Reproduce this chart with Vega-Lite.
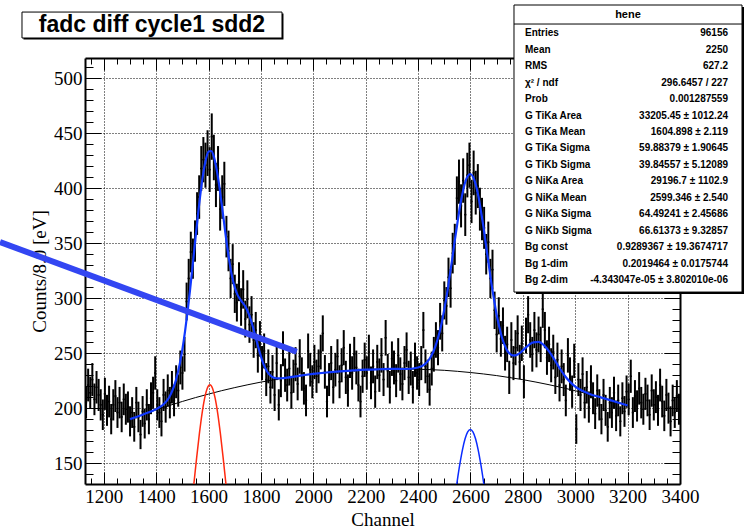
{
  "$schema": "https://vega.github.io/schema/vega-lite/v6.json",
  "width": 595,
  "height": 426,
  "autosize": {"type": "none"},
  "padding": {"left": 85, "top": 58, "right": 68, "bottom": 45},
  "background": "white",
  "config": {"view": {"stroke": null}},
  "datasets": {
    "hist": [
      {"c":1132,"n":205,"e":14.3},{"c":1140,"n":221,"e":14.9},{"c":1148,"n":214,"e":14.6},{"c":1156,"n":226,"e":15.0},{"c":1164,"n":208,"e":14.4},
      {"c":1172,"n":219,"e":14.8},{"c":1180,"n":212,"e":14.6},{"c":1188,"n":203,"e":14.2},{"c":1196,"n":194,"e":13.9},{"c":1204,"n":213,"e":14.6},
      {"c":1212,"n":198,"e":14.1},{"c":1220,"n":206,"e":14.4},{"c":1228,"n":190,"e":13.8},{"c":1236,"n":203,"e":14.2},{"c":1244,"n":211,"e":14.5},
      {"c":1252,"n":196,"e":14.0},{"c":1260,"n":205,"e":14.3},{"c":1268,"n":192,"e":13.9},{"c":1276,"n":208,"e":14.4},{"c":1284,"n":199,"e":14.1},
      {"c":1292,"n":201,"e":14.2},{"c":1300,"n":188,"e":13.7},{"c":1308,"n":196,"e":14.0},{"c":1316,"n":183,"e":13.5},{"c":1324,"n":205,"e":14.3},
      {"c":1332,"n":192,"e":13.9},{"c":1340,"n":176,"e":13.3},{"c":1348,"n":197,"e":14.0},{"c":1356,"n":186,"e":13.6},{"c":1364,"n":203,"e":14.2},
      {"c":1372,"n":190,"e":13.8},{"c":1380,"n":209,"e":14.5},{"c":1388,"n":214,"e":14.6},{"c":1396,"n":232,"e":15.2},{"c":1404,"n":203,"e":14.2},
      {"c":1412,"n":196,"e":14.0},{"c":1420,"n":188,"e":13.7},{"c":1428,"n":212,"e":14.6},{"c":1436,"n":201,"e":14.2},{"c":1444,"n":216,"e":14.7},
      {"c":1452,"n":205,"e":14.3},{"c":1460,"n":219,"e":14.8},{"c":1468,"n":207,"e":14.4},{"c":1476,"n":224,"e":15.0},{"c":1484,"n":216,"e":14.7},
      {"c":1492,"n":237,"e":15.4},{"c":1500,"n":232,"e":15.2},{"c":1508,"n":249,"e":15.8},{"c":1516,"n":297,"e":17.2},{"c":1524,"n":318,"e":17.8},
      {"c":1532,"n":342,"e":18.5},{"c":1540,"n":336,"e":18.3},{"c":1548,"n":352,"e":18.8},{"c":1556,"n":377,"e":19.4},{"c":1564,"n":392,"e":19.8},
      {"c":1572,"n":418,"e":20.4},{"c":1580,"n":426,"e":20.6},{"c":1588,"n":421,"e":20.5},{"c":1596,"n":432,"e":20.8},{"c":1604,"n":417,"e":20.4},
      {"c":1612,"n":447,"e":21.1},{"c":1620,"n":428,"e":20.7},{"c":1628,"n":403,"e":20.1},{"c":1636,"n":418,"e":20.4},{"c":1644,"n":381,"e":19.5},
      {"c":1652,"n":392,"e":19.8},{"c":1660,"n":404,"e":20.1},{"c":1668,"n":356,"e":18.9},{"c":1676,"n":343,"e":18.5},{"c":1684,"n":318,"e":17.8},
      {"c":1692,"n":331,"e":18.2},{"c":1700,"n":304,"e":17.4},{"c":1708,"n":296,"e":17.2},{"c":1716,"n":315,"e":17.7},{"c":1724,"n":292,"e":17.1},
      {"c":1732,"n":308,"e":17.5},{"c":1740,"n":281,"e":16.8},{"c":1748,"n":299,"e":17.3},{"c":1756,"n":276,"e":16.6},{"c":1764,"n":285,"e":16.9},
      {"c":1772,"n":262,"e":16.2},{"c":1780,"n":271,"e":16.5},{"c":1788,"n":248,"e":15.7},{"c":1796,"n":263,"e":16.2},{"c":1804,"n":241,"e":15.5},
      {"c":1812,"n":252,"e":15.9},{"c":1820,"n":226,"e":15.0},{"c":1828,"n":238,"e":15.4},{"c":1836,"n":219,"e":14.8},{"c":1844,"n":233,"e":15.3},
      {"c":1852,"n":212,"e":14.6},{"c":1860,"n":241,"e":15.5},{"c":1868,"n":203,"e":14.2},{"c":1876,"n":225,"e":15.0},{"c":1884,"n":254,"e":15.9},
      {"c":1892,"n":230,"e":15.2},{"c":1900,"n":221,"e":14.9},{"c":1908,"n":236,"e":15.4},{"c":1916,"n":214,"e":14.6},{"c":1924,"n":229,"e":15.1},
      {"c":1932,"n":240,"e":15.5},{"c":1940,"n":222,"e":14.9},{"c":1948,"n":247,"e":15.7},{"c":1956,"n":231,"e":15.2},{"c":1964,"n":218,"e":14.8},
      {"c":1972,"n":207,"e":14.4},{"c":1980,"n":252,"e":15.9},{"c":1988,"n":235,"e":15.3},{"c":1996,"n":224,"e":15.0},{"c":2004,"n":242,"e":15.6},
      {"c":2012,"n":229,"e":15.1},{"c":2020,"n":238,"e":15.4},{"c":2028,"n":251,"e":15.8},{"c":2036,"n":268,"e":16.4},{"c":2044,"n":233,"e":15.3},
      {"c":2052,"n":206,"e":14.4},{"c":2060,"n":226,"e":15.0},{"c":2068,"n":241,"e":15.5},{"c":2076,"n":219,"e":14.8},{"c":2084,"n":235,"e":15.3},
      {"c":2092,"n":247,"e":15.7},{"c":2100,"n":224,"e":15.0},{"c":2108,"n":239,"e":15.5},{"c":2116,"n":255,"e":16.0},{"c":2124,"n":228,"e":15.1},
      {"c":2132,"n":216,"e":14.7},{"c":2140,"n":243,"e":15.6},{"c":2148,"n":232,"e":15.2},{"c":2156,"n":249,"e":15.8},{"c":2164,"n":237,"e":15.4},
      {"c":2172,"n":221,"e":14.9},{"c":2180,"n":206,"e":14.4},{"c":2188,"n":229,"e":15.1},{"c":2196,"n":244,"e":15.6},{"c":2204,"n":232,"e":15.2},
      {"c":2212,"n":251,"e":15.8},{"c":2220,"n":223,"e":14.9},{"c":2228,"n":238,"e":15.4},{"c":2236,"n":215,"e":14.7},{"c":2244,"n":242,"e":15.6},
      {"c":2252,"n":230,"e":15.2},{"c":2260,"n":248,"e":15.7},{"c":2268,"n":226,"e":15.0},{"c":2276,"n":264,"e":16.2},{"c":2284,"n":234,"e":15.3},
      {"c":2292,"n":219,"e":14.8},{"c":2300,"n":245,"e":15.7},{"c":2308,"n":237,"e":15.4},{"c":2316,"n":225,"e":15.0},{"c":2324,"n":248,"e":15.7},
      {"c":2332,"n":231,"e":15.2},{"c":2340,"n":222,"e":14.9},{"c":2348,"n":241,"e":15.5},{"c":2356,"n":253,"e":15.9},{"c":2364,"n":228,"e":15.1},
      {"c":2372,"n":236,"e":15.4},{"c":2380,"n":219,"e":14.8},{"c":2388,"n":244,"e":15.6},{"c":2396,"n":232,"e":15.2},{"c":2404,"n":226,"e":15.0},
      {"c":2412,"n":241,"e":15.5},{"c":2420,"n":271,"e":16.5},{"c":2428,"n":238,"e":15.4},{"c":2436,"n":229,"e":15.1},{"c":2444,"n":217,"e":14.7},
      {"c":2452,"n":236,"e":15.4},{"c":2460,"n":249,"e":15.8},{"c":2468,"n":262,"e":16.2},{"c":2476,"n":255,"e":16.0},{"c":2484,"n":279,"e":16.7},
      {"c":2492,"n":268,"e":16.4},{"c":2500,"n":298,"e":17.3},{"c":2508,"n":293,"e":17.1},{"c":2516,"n":319,"e":17.9},{"c":2524,"n":309,"e":17.6},
      {"c":2532,"n":341,"e":18.5},{"c":2540,"n":349,"e":18.7},{"c":2548,"n":391,"e":19.8},{"c":2556,"n":406,"e":20.1},{"c":2564,"n":384,"e":19.6},
      {"c":2572,"n":407,"e":20.2},{"c":2580,"n":376,"e":19.4},{"c":2588,"n":412,"e":20.3},{"c":2596,"n":421,"e":20.5},{"c":2604,"n":388,"e":19.7},
      {"c":2612,"n":414,"e":20.3},{"c":2620,"n":396,"e":19.9},{"c":2628,"n":402,"e":20.0},{"c":2636,"n":381,"e":19.5},{"c":2644,"n":372,"e":19.3},
      {"c":2652,"n":364,"e":19.1},{"c":2660,"n":340,"e":18.4},{"c":2668,"n":351,"e":18.7},{"c":2676,"n":318,"e":17.8},{"c":2684,"n":326,"e":18.1},
      {"c":2692,"n":289,"e":17.0},{"c":2700,"n":267,"e":16.3},{"c":2708,"n":284,"e":16.9},{"c":2716,"n":263,"e":16.2},{"c":2724,"n":275,"e":16.6},
      {"c":2732,"n":250,"e":15.8},{"c":2740,"n":258,"e":16.1},{"c":2748,"n":228,"e":15.1},{"c":2756,"n":262,"e":16.2},{"c":2764,"n":241,"e":15.5},
      {"c":2772,"n":255,"e":16.0},{"c":2780,"n":268,"e":16.4},{"c":2788,"n":242,"e":15.6},{"c":2796,"n":259,"e":16.1},{"c":2804,"n":224,"e":15.0},
      {"c":2812,"n":266,"e":16.3},{"c":2820,"n":285,"e":16.9},{"c":2828,"n":262,"e":16.2},{"c":2836,"n":249,"e":15.8},{"c":2844,"n":271,"e":16.5},
      {"c":2852,"n":253,"e":15.9},{"c":2860,"n":267,"e":16.3},{"c":2868,"n":258,"e":16.1},{"c":2876,"n":290,"e":17.0},{"c":2884,"n":271,"e":16.5},
      {"c":2892,"n":246,"e":15.7},{"c":2900,"n":258,"e":16.1},{"c":2908,"n":239,"e":15.5},{"c":2916,"n":251,"e":15.8},{"c":2924,"n":228,"e":15.1},
      {"c":2932,"n":244,"e":15.6},{"c":2940,"n":221,"e":14.9},{"c":2948,"n":238,"e":15.4},{"c":2956,"n":226,"e":15.0},{"c":2964,"n":207,"e":14.4},
      {"c":2972,"n":248,"e":15.7},{"c":2980,"n":231,"e":15.2},{"c":2988,"n":215,"e":14.7},{"c":2996,"n":243,"e":15.6},{"c":3004,"n":181,"e":13.5},
      {"c":3012,"n":226,"e":15.0},{"c":3020,"n":212,"e":14.6},{"c":3028,"n":231,"e":15.2},{"c":3036,"n":205,"e":14.3},{"c":3044,"n":219,"e":14.8},
      {"c":3052,"n":201,"e":14.2},{"c":3060,"n":224,"e":15.0},{"c":3068,"n":209,"e":14.5},{"c":3076,"n":195,"e":14.0},{"c":3084,"n":216,"e":14.7},
      {"c":3092,"n":203,"e":14.2},{"c":3100,"n":190,"e":13.8},{"c":3108,"n":212,"e":14.6},{"c":3116,"n":198,"e":14.1},{"c":3124,"n":183,"e":13.5},
      {"c":3132,"n":205,"e":14.3},{"c":3140,"n":196,"e":14.0},{"c":3148,"n":214,"e":14.6},{"c":3156,"n":193,"e":13.9},{"c":3164,"n":207,"e":14.4},
      {"c":3172,"n":188,"e":13.7},{"c":3180,"n":209,"e":14.5},{"c":3188,"n":197,"e":14.0},{"c":3196,"n":215,"e":14.7},{"c":3204,"n":208,"e":14.4},
      {"c":3212,"n":229,"e":15.1},{"c":3220,"n":196,"e":14.0},{"c":3228,"n":211,"e":14.5},{"c":3236,"n":202,"e":14.2},{"c":3244,"n":218,"e":14.8},
      {"c":3252,"n":205,"e":14.3},{"c":3260,"n":199,"e":14.1},{"c":3268,"n":213,"e":14.6},{"c":3276,"n":207,"e":14.4},{"c":3284,"n":194,"e":13.9},
      {"c":3292,"n":216,"e":14.7},{"c":3300,"n":203,"e":14.2},{"c":3308,"n":210,"e":14.5},{"c":3316,"n":198,"e":14.1},{"c":3324,"n":221,"e":14.9},
      {"c":3332,"n":206,"e":14.4},{"c":3340,"n":193,"e":13.9},{"c":3348,"n":212,"e":14.6},{"c":3356,"n":200,"e":14.1},{"c":3364,"n":188,"e":13.7},
      {"c":3372,"n":207,"e":14.4},{"c":3380,"n":196,"e":14.0},{"c":3388,"n":211,"e":14.5},{"c":3396,"n":199,"e":14.1}
    ],
    "bg": [
      {"x":1300,"v":190.0},{"x":1350,"v":194.3},{"x":1400,"v":198.5},{"x":1450,"v":202.4},{"x":1500,"v":206.1},{"x":1550,"v":209.6},
      {"x":1600,"v":212.8},{"x":1650,"v":215.9},{"x":1700,"v":218.7},{"x":1750,"v":221.3},{"x":1800,"v":223.7},{"x":1850,"v":225.8},
      {"x":1900,"v":227.8},{"x":1950,"v":229.6},{"x":2000,"v":231.1},{"x":2050,"v":232.4},{"x":2100,"v":233.5},{"x":2150,"v":234.3},
      {"x":2200,"v":235.0},{"x":2250,"v":235.4},{"x":2300,"v":235.7},{"x":2350,"v":235.6},{"x":2400,"v":235.4},{"x":2450,"v":235.0},
      {"x":2500,"v":234.4},{"x":2550,"v":233.5},{"x":2600,"v":232.4},{"x":2650,"v":231.1},{"x":2700,"v":229.6},{"x":2750,"v":227.8},
      {"x":2800,"v":225.9},{"x":2850,"v":223.7},{"x":2900,"v":221.3},{"x":2950,"v":218.7},{"x":3000,"v":215.8},{"x":3050,"v":212.9},
      {"x":3100,"v":209.5},{"x":3150,"v":206.1},{"x":3200,"v":202.4}
    ],
    "fit": [
      {"x":1300,"v":190.0},{"x":1350,"v":194.3},{"x":1400,"v":199.1},{"x":1425,"v":202.9},{"x":1440,"v":206.6},{"x":1450,"v":210.2},
      {"x":1460,"v":215.0},{"x":1475,"v":225.3},{"x":1490,"v":240.5},{"x":1500,"v":253.7},{"x":1510,"v":269.8},{"x":1520,"v":288.4},
      {"x":1530,"v":309.4},{"x":1540,"v":331.9},{"x":1550,"v":354.9},{"x":1560,"v":377.0},{"x":1570,"v":397.5},{"x":1580,"v":414.3},
      {"x":1590,"v":426.7},{"x":1600,"v":433.4},{"x":1610,"v":433.9},{"x":1620,"v":428.8},{"x":1630,"v":418.0},{"x":1640,"v":403.4},
      {"x":1650,"v":385.5},{"x":1660,"v":366.9},{"x":1670,"v":348.4},{"x":1680,"v":332.6},{"x":1690,"v":319.2},{"x":1700,"v":309.8},
      {"x":1710,"v":303.3},{"x":1720,"v":299.2},{"x":1730,"v":295.9},{"x":1740,"v":292.6},{"x":1750,"v":287.7},{"x":1760,"v":281.3},
      {"x":1770,"v":273.1},{"x":1780,"v":264.1},{"x":1790,"v":255.1},{"x":1800,"v":246.8},{"x":1810,"v":239.8},{"x":1820,"v":234.7},
      {"x":1830,"v":231.2},{"x":1840,"v":228.9},{"x":1850,"v":227.6},{"x":1860,"v":227.1},{"x":1880,"v":227.2},{"x":1900,"v":227.8},
      {"x":1950,"v":229.6},{"x":2000,"v":231.1},{"x":2050,"v":232.4},{"x":2100,"v":233.5},{"x":2150,"v":234.3},{"x":2200,"v":235.0},
      {"x":2250,"v":235.4},{"x":2300,"v":235.7},{"x":2350,"v":235.6},{"x":2400,"v":237.0},{"x":2425,"v":239.9},{"x":2440,"v":243.6},
      {"x":2450,"v":247.5},{"x":2460,"v":252.4},{"x":2475,"v":263.1},{"x":2490,"v":277.5},{"x":2500,"v":290.0},{"x":2510,"v":303.5},
      {"x":2520,"v":319.4},{"x":2530,"v":335.3},{"x":2540,"v":352.5},{"x":2550,"v":368.3},{"x":2560,"v":383.7},{"x":2570,"v":396.0},
      {"x":2580,"v":405.7},{"x":2590,"v":411.3},{"x":2600,"v":413.0},{"x":2610,"v":410.3},{"x":2620,"v":403.3},{"x":2630,"v":392.9},
      {"x":2640,"v":379.1},{"x":2650,"v":364.0},{"x":2660,"v":346.7},{"x":2670,"v":330.2},{"x":2680,"v":313.2},{"x":2690,"v":298.6},
      {"x":2700,"v":284.8},{"x":2710,"v":273.7},{"x":2720,"v":264.3},{"x":2730,"v":257.5},{"x":2740,"v":252.3},{"x":2750,"v":249.6},
      {"x":2760,"v":248.0},{"x":2770,"v":248.0},{"x":2780,"v":248.8},{"x":2790,"v":250.4},{"x":2800,"v":252.6},{"x":2820,"v":256.9},
      {"x":2840,"v":259.9},{"x":2860,"v":260.2},{"x":2880,"v":257.3},{"x":2900,"v":251.6},{"x":2920,"v":244.3},{"x":2940,"v":236.5},
      {"x":2960,"v":229.5},{"x":2980,"v":223.9},{"x":3000,"v":219.6},{"x":3025,"v":216.0},{"x":3050,"v":213.4},{"x":3100,"v":209.6},
      {"x":3150,"v":206.1},{"x":3200,"v":202.4}
    ],
    "tika": [
      {"x":1534.9,"v":111.7},{"x":1544.9,"v":133.9},{"x":1554.9,"v":156.1},{"x":1564.9,"v":177.0},{"x":1574.9,"v":195.1},
      {"x":1584.9,"v":209.2},{"x":1594.9,"v":218.1},{"x":1604.9,"v":221.2},{"x":1614.9,"v":218.1},{"x":1624.9,"v":209.2},
      {"x":1634.9,"v":195.1},{"x":1644.9,"v":177.0},{"x":1654.9,"v":156.1},{"x":1664.9,"v":133.9},{"x":1674.9,"v":111.7}
    ],
    "nika": [
      {"x":2539.3,"v":117.2},{"x":2549.3,"v":133.7},{"x":2559.3,"v":149.0},{"x":2569.3,"v":162.1},{"x":2579.3,"v":172.1},
      {"x":2589.3,"v":178.4},{"x":2599.3,"v":180.6},{"x":2609.3,"v":178.4},{"x":2619.3,"v":172.1},{"x":2629.3,"v":162.1},
      {"x":2639.3,"v":149.0},{"x":2649.3,"v":133.7},{"x":2659.3,"v":117.2}
    ],
    "stats": [
      {"k":"Entries","v":"96156"},
      {"k":"Mean","v":"2250"},
      {"k":"RMS","v":"627.2"},
      {"k":"χ² / ndf","v":"296.6457 / 227"},
      {"k":"Prob","v":"0.001287559"},
      {"k":"G TiKa Area","v":"33205.45 ± 1012.24"},
      {"k":"G TiKa Mean","v":"1604.898 ± 2.119"},
      {"k":"G TiKa Sigma","v":"59.88379 ± 1.90645"},
      {"k":"G TiKb Sigma","v":"39.84557 ± 5.12089"},
      {"k":"G NiKa Area","v":"29196.7 ± 1102.9"},
      {"k":"G NiKa Mean","v":"2599.346 ± 2.540"},
      {"k":"G NiKa Sigma","v":"64.49241 ± 2.45686"},
      {"k":"G NiKb Sigma","v":"66.61373 ± 9.32857"},
      {"k":"Bg const","v":"0.9289367 ± 19.3674717"},
      {"k":"Bg 1-dim","v":"0.2019464 ± 0.0175744"},
      {"k":"Bg 2-dim","v":"-4.343047e-05 ± 3.802010e-06"}
    ]
  },
  "layer": [
    {
      "resolve": {"axis": {"x": "independent", "y": "independent"}},
      "layer": [
        {
          "data": {"name": "hist"},
          "mark": {"type": "errorbar", "ticks": false, "color": "black", "rule": {"strokeWidth": 2}},
          "encoding": {
            "x": {
              "field": "c", "type": "quantitative",
              "scale": {"domain": [1128, 3400], "nice": false, "zero": false},
              "axis": {
                "orient": "bottom",
                "values": [1150,1200,1250,1300,1350,1400,1450,1500,1550,1600,1650,1700,1750,1800,1850,1900,1950,2000,2050,2100,2150,2200,2250,2300,2350,2400,2450,2500,2550,2600,2650,2700,2750,2800,2850,2900,2950,3000,3050,3100,3150,3200,3250,3300,3350,3400],
                "format": "d",
                "labelExpr": "datum.value % 200 == 0 ? datum.label : ''",
                "labelOverlap": false, "labelFlush": false, "labelBound": false,
                "labelFont": "Liberation Serif", "labelFontSize": 19, "labelColor": "black", "labelPadding": 15,
                "tickSize": {"condition": {"test": "datum.value % 200 == 0", "value": -12}, "value": -6},
                "tickColor": "black", "tickWidth": 1,
                "grid": true, "gridColor": "black", "gridWidth": 1, "gridDash": [1, 2],
                "gridOpacity": {"condition": {"test": "datum.value % 200 == 0", "value": 1}, "value": 0},
                "domain": true, "domainColor": "black", "domainWidth": 2,
                "title": "Channel", "titleFont": "Liberation Serif", "titleFontSize": 19,
                "titleFontWeight": "normal", "titleColor": "black", "titlePadding": -2
              }
            },
            "y": {
              "field": "n", "type": "quantitative",
              "scale": {"domain": [131, 518.5], "nice": false, "zero": false},
              "axis": {
                "orient": "left",
                "values": [140,150,160,170,180,190,200,210,220,230,240,250,260,270,280,290,300,310,320,330,340,350,360,370,380,390,400,410,420,430,440,450,460,470,480,490,500,510],
                "format": "d",
                "labelExpr": "datum.value % 50 == 0 ? datum.label : ''",
                "labelOverlap": false, "labelFlush": false, "labelBound": false,
                "labelFont": "Liberation Serif", "labelFontSize": 19, "labelColor": "black", "labelPadding": 19,
                "tickSize": {"condition": {"test": "datum.value % 50 == 0", "value": -16}, "value": -8},
                "tickColor": "black", "tickWidth": 1,
                "grid": true, "gridColor": "black", "gridWidth": 1, "gridDash": [1, 2],
                "gridOpacity": {"condition": {"test": "datum.value % 50 == 0", "value": 1}, "value": 0},
                "domain": true, "domainColor": "black", "domainWidth": 2,
                "title": "Counts/8.0 [eV]", "titleFont": "Liberation Serif", "titleFontSize": 19,
                "titleFontWeight": "normal", "titleColor": "black", "titlePadding": 4
              }
            },
            "yError": {"field": "e"}
          }
        },
        {
          "data": {"name": "hist"},
          "mark": {"type": "tick", "orient": "horizontal", "size": 2.2, "thickness": 1.5, "color": "black", "opacity": 1},
          "encoding": {
            "x": {
              "field": "c", "type": "quantitative",
              "scale": {"domain": [1128, 3400], "nice": false, "zero": false},
              "axis": {
                "orient": "top",
                "values": [1150,1200,1250,1300,1350,1400,1450,1500,1550,1600,1650,1700,1750,1800,1850,1900,1950,2000,2050,2100,2150,2200,2250,2300,2350,2400,2450,2500,2550,2600,2650,2700,2750,2800,2850,2900,2950,3000,3050,3100,3150,3200,3250,3300,3350,3400],
                "labels": false, "grid": false, "title": null,
                "tickSize": {"condition": {"test": "datum.value % 200 == 0", "value": -12}, "value": -6},
                "tickColor": "black", "tickWidth": 1,
                "domain": true, "domainColor": "black", "domainWidth": 2
              }
            },
            "y": {
              "field": "n", "type": "quantitative",
              "scale": {"domain": [131, 518.5], "nice": false, "zero": false},
              "axis": {
                "orient": "right",
                "values": [140,150,160,170,180,190,200,210,220,230,240,250,260,270,280,290,300,310,320,330,340,350,360,370,380,390,400,410,420,430,440,450,460,470,480,490,500,510],
                "labels": false, "grid": false, "title": null,
                "tickSize": {"condition": {"test": "datum.value % 50 == 0", "value": -16}, "value": -8},
                "tickColor": "black", "tickWidth": 1,
                "domain": true, "domainColor": "black", "domainWidth": 2
              }
            }
          }
        },
        {
          "data": {"name": "bg"},
          "mark": {"type": "line", "color": "black", "strokeWidth": 1, "clip": true},
          "encoding": {
            "x": {"field": "x", "type": "quantitative", "scale": {"domain": [1128, 3400], "nice": false, "zero": false}, "axis": null},
            "y": {"field": "v", "type": "quantitative", "scale": {"domain": [131, 518.5], "nice": false, "zero": false}, "axis": null}
          }
        },
        {
          "data": {"name": "tika"},
          "mark": {"type": "line", "color": "#ff2a10", "strokeWidth": 1.5, "clip": true, "interpolate": "monotone"},
          "encoding": {
            "x": {"field": "x", "type": "quantitative", "scale": {"domain": [1128, 3400], "nice": false, "zero": false}, "axis": null},
            "y": {"field": "v", "type": "quantitative", "scale": {"domain": [131, 518.5], "nice": false, "zero": false}, "axis": null}
          }
        },
        {
          "data": {"name": "nika"},
          "mark": {"type": "line", "color": "#0a2cff", "strokeWidth": 1.5, "clip": true, "interpolate": "monotone"},
          "encoding": {
            "x": {"field": "x", "type": "quantitative", "scale": {"domain": [1128, 3400], "nice": false, "zero": false}, "axis": null},
            "y": {"field": "v", "type": "quantitative", "scale": {"domain": [131, 518.5], "nice": false, "zero": false}, "axis": null}
          }
        },
        {
          "data": {"name": "fit"},
          "mark": {"type": "line", "color": "#1038ff", "strokeWidth": 2.2, "clip": true, "interpolate": "monotone"},
          "encoding": {
            "x": {"field": "x", "type": "quantitative", "scale": {"domain": [1128, 3400], "nice": false, "zero": false}, "axis": null},
            "y": {"field": "v", "type": "quantitative", "scale": {"domain": [131, 518.5], "nice": false, "zero": false}, "axis": null}
          }
        },
        {
          "data": {"values": [{"x": 803.4, "v": 351.1}, {"x": 1936.5, "v": 251.3}]},
          "mark": {"type": "line", "color": "#3346f2", "strokeWidth": 6, "strokeCap": "butt", "clip": false},
          "encoding": {
            "x": {"field": "x", "type": "quantitative", "scale": {"domain": [1128, 3400], "nice": false, "zero": false}, "axis": null},
            "y": {"field": "v", "type": "quantitative", "scale": {"domain": [131, 518.5], "nice": false, "zero": false}, "axis": null}
          }
        },
        {
          "data": {"values": [{}]},
          "mark": {"type": "rect", "fill": "black", "clip": false},
          "encoding": {
            "x": {"datum": 893.1, "type": "quantitative", "axis": null},
            "x2": {"datum": 1885.9},
            "y": {"datum": 559.0, "type": "quantitative", "axis": null},
            "y2": {"datum": 535.4}
          }
        },
        {
          "data": {"values": [{}]},
          "mark": {"type": "rect", "fill": "white", "stroke": "black", "strokeWidth": 1, "clip": false},
          "encoding": {
            "x": {"datum": 887.4, "type": "quantitative", "axis": null},
            "x2": {"datum": 1880.2},
            "y": {"datum": 560.3, "type": "quantitative", "axis": null},
            "y2": {"datum": 536.7}
          }
        },
        {
          "data": {"values": [{"t": "fadc diff cycle1 sdd2"}]},
          "mark": {"type": "text", "font": "Liberation Sans", "fontWeight": "bold", "fontSize": 23, "align": "center", "baseline": "middle", "color": "black", "clip": false},
          "encoding": {
            "x": {"datum": 1383.8, "type": "quantitative", "axis": null},
            "y": {"datum": 548.5, "type": "quantitative", "axis": null},
            "text": {"field": "t"}
          }
        },
        {
          "data": {"values": [{}]},
          "mark": {"type": "rect", "fill": "black", "clip": false},
          "encoding": {
            "x": {"datum": 2773.7, "type": "quantitative", "axis": null},
            "x2": {"datum": 3644.4},
            "y": {"datum": 564.9, "type": "quantitative", "axis": null},
            "y2": {"datum": 303.8}
          }
        },
        {
          "data": {"values": [{}]},
          "mark": {"type": "rect", "fill": "white", "stroke": "black", "strokeWidth": 1, "clip": false},
          "encoding": {
            "x": {"datum": 2766.1, "type": "quantitative", "axis": null},
            "x2": {"datum": 3636.8},
            "y": {"datum": 566.7, "type": "quantitative", "axis": null},
            "y2": {"datum": 305.6}
          }
        },
        {
          "data": {"values": [{}]},
          "mark": {"type": "rule", "color": "black", "strokeWidth": 1, "clip": false},
          "encoding": {
            "x": {"datum": 2766.1, "type": "quantitative", "axis": null},
            "x2": {"datum": 3636.8},
            "y": {"datum": 549.4, "type": "quantitative", "axis": null}
          }
        },
        {
          "data": {"values": [{"t": "hene"}]},
          "mark": {"type": "text", "font": "Liberation Sans", "fontWeight": "bold", "fontSize": 11, "align": "center", "baseline": "middle", "color": "black", "clip": false},
          "encoding": {
            "x": {"datum": 3201.4, "type": "quantitative", "axis": null},
            "y": {"datum": 557.6, "type": "quantitative", "axis": null},
            "text": {"field": "t"}
          }
        }
      ]
    },
    {
      "data": {"name": "stats"},
      "encoding": {
        "y": {
          "field": "k", "type": "ordinal", "axis": null,
          "scale": {
            "type": "point", "padding": 0, "range": [-24.7, 222],
            "domain": ["Entries","Mean","RMS","χ² / ndf","Prob","G TiKa Area","G TiKa Mean","G TiKa Sigma","G TiKb Sigma","G NiKa Area","G NiKa Mean","G NiKa Sigma","G NiKb Sigma","Bg const","Bg 1-dim","Bg 2-dim"]
          }
        }
      },
      "layer": [
        {
          "mark": {"type": "text", "font": "Liberation Sans", "fontWeight": "bold", "fontSize": 10, "align": "left", "baseline": "middle", "color": "black", "clip": false},
          "encoding": {
            "x": {"datum": 2808.1, "type": "quantitative", "axis": null},
            "text": {"field": "k"}
          }
        },
        {
          "mark": {"type": "text", "font": "Liberation Sans", "fontWeight": "bold", "fontSize": 10, "align": "right", "baseline": "middle", "color": "black", "clip": false},
          "encoding": {
            "x": {"datum": 3583.3, "type": "quantitative", "axis": null},
            "text": {"field": "v"}
          }
        }
      ]
    }
  ],
  "resolve": {"scale": {"y": "independent"}}
}
